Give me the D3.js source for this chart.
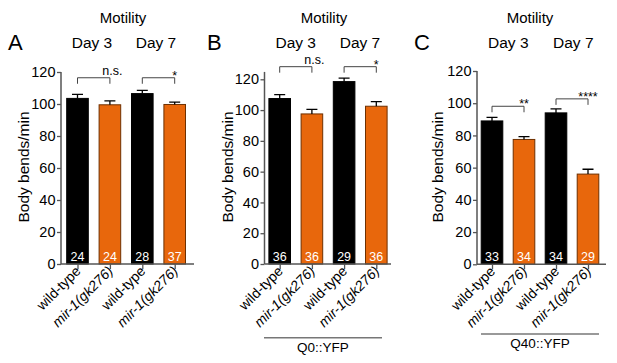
<!DOCTYPE html>
<html><head><meta charset="utf-8">
<script src="https://cdn.jsdelivr.net/npm/d3@7"></script>
<style>
body{margin:0;background:#fff;}
svg{font-family:"Liberation Sans",Arial,Helvetica,sans-serif;}
</style></head>
<body><svg id="c" width="617" height="363"></svg>
<script>
const categories = ["wild-type", "mir-1(gk276)", "wild-type", "mir-1(gk276)"];
const days = ["Day 3", "Day 7"];
const yTicks = [0, 20, 40, 60, 80, 100, 120];

const meansA = [103.5, 99.5, 106.5, 99.7];
const errsA  = [2.5, 2.5, 2.0, 1.5];
const countsA = [24, 24, 28, 37];
const sigA = ["n.s.", "*"];

const meansB = [107.5, 97.5, 118.5, 102.5];
const errsB  = [2.5, 3.0, 2.2, 3.0];
const countsB = [36, 36, 29, 36];
const sigB = ["n.s.", "*"];

const meansC = [89.0, 77.5, 94.0, 56.0];
const errsC  = [2.2, 1.8, 2.5, 3.0];
const countsC = [33, 34, 34, 29];
const sigC = ["**", "****"];

const panels = [
  {letter:"A", means:meansA, errs:errsA, counts:countsA, sig:sigA, strain:null,
   axisX:61, c0:77.5, step:32.4, xEnd:194, y0:264, y120:72, yTop:120, brk:[116.4,116.4], letterX:8,
   ylabX:29, daysX:[92,156], titleX:123},
  {letter:"B", means:meansB, errs:errsB, counts:countsB, sig:sigB, strain:"Q0::YFP",
   axisX:264.5, c0:279.7, step:32.2, xEnd:391, y0:264, y120:79.3, yTop:124.8, brk:[128.2,128.2], letterX:207,
   ylabX:233, daysX:[295.7,360], titleX:324, lineX:[264,382], lineY:337.7, strainY:352},
  {letter:"C", means:meansC, errs:errsC, counts:countsC, sig:sigC, strain:"Q40::YFP",
   axisX:477, c0:492, step:32, xEnd:606, y0:264.3, y120:71, yTop:120, brk:[98.1,102.7], letterX:414,
   ylabX:443, daysX:[508.3,573.3], titleX:530, lineX:[481,599], lineY:334, strainY:347.5}
];

const svg = d3.select("#c");
const orange = "#e8670c", orangeStroke = "#6e3000";
const axisCol = "#555";
const barW = 21.6;

panels.forEach(p => {
  const g = svg.append("g");
  const y = d3.scaleLinear().domain([0,120]).range([p.y0, p.y120]);
  const x = d3.scaleLinear().domain([0,3]).range([p.c0, p.c0 + 3*p.step]);

  // titles
  g.append("text").attr("x", p.titleX).attr("y", 23).attr("text-anchor","middle")
    .style("font-size","15px").text("Motility");
  days.forEach((d,i) => g.append("text").attr("x", p.daysX[i]).attr("y", 47.5)
    .attr("text-anchor","middle").style("font-size","15.5px").text(d));
  g.append("text").attr("x", p.letterX).attr("y", 50).style("font-size","22px").text(p.letter);

  // bars
  const idx = d3.range(4);
  g.selectAll("rect.bar").data(idx).join("rect")
    .attr("x", i => x(i) - barW/2).attr("width", barW)
    .attr("y", i => y(p.means[i])).attr("height", i => y(0) - y(p.means[i]))
    .attr("fill", i => i % 2 ? orange : "#000")
    .attr("stroke", i => i % 2 ? orangeStroke : "#000").attr("stroke-width", 1);

  // error bars (upper)
  g.selectAll("path.err").data(idx).join("path")
    .attr("d", i => {
      const yt = y(p.means[i] + p.errs[i]), yb = y(p.means[i]);
      return `M${x(i)},${yb}V${yt}M${x(i)-5.5},${yt}H${x(i)+5.5}`;
    })
    .attr("stroke","#000").attr("stroke-width",1.3).attr("fill","none");

  // counts
  g.selectAll("text.cnt").data(idx).join("text")
    .attr("x", i => x(i)).attr("y", y(0) - 3.5).attr("text-anchor","middle")
    .attr("fill","#fff").style("font-size","12.5px").text(i => p.counts[i]);

  // y axis
  const ya = d3.axisLeft(y).tickValues(yTicks).tickSize(4).tickPadding(1.5).tickSizeOuter(0);
  const yg = g.append("g").attr("transform", `translate(${p.axisX},0)`).call(ya);
  yg.select(".domain").remove();
  yg.append("line").attr("y1", y(0)).attr("y2", y(p.yTop)).attr("stroke", axisCol).attr("stroke-width",1.5);
  yg.selectAll(".tick line").attr("stroke", axisCol).attr("stroke-width",1.3);
  yg.selectAll(".tick text").attr("fill","#000").style("font-size","14.5px")
    .style("font-family","'Liberation Sans',Arial,sans-serif");

  g.append("text").attr("transform", `translate(${p.ylabX},167) rotate(-90)`)
    .attr("text-anchor","middle").style("font-size","15.5px").text("Body bends/min");

  // x axis
  const xa = d3.axisBottom(x).tickValues(idx).tickSize(5).tickFormat("").tickSizeOuter(0);
  const xg = g.append("g").attr("transform", `translate(0,${y(0)})`).call(xa);
  xg.select(".domain").remove();
  xg.append("line").attr("x1", p.axisX).attr("x2", p.xEnd).attr("stroke", axisCol).attr("stroke-width",1.5);
  xg.selectAll(".tick line").attr("stroke", axisCol).attr("stroke-width",1.3);

  // rotated category labels
  g.selectAll("text.cat").data(idx).join("text")
    .attr("transform", i => `translate(${x(i)+4},${y(0)+8}) rotate(-45)`)
    .attr("text-anchor","end").style("font-size","14px")
    .style("font-style", i => i % 2 ? "italic" : "normal")
    .text(i => categories[i]);

  // significance brackets
  [0,1].forEach(k => {
    const xl = x(2*k), xr = x(2*k+1), yb = y(p.brk[k]);
    g.append("path").attr("d", `M${xl},${yb+6}V${yb}H${xr}V${yb+6}`)
      .attr("fill","none").attr("stroke","#444").attr("stroke-width",1);
    const s = p.sig[k];
    if (s === "n.s.") {
      g.append("text").attr("x", xr + 2.5).attr("y", yb - 3).attr("text-anchor","middle")
        .style("font-size","12.5px").text(s);
    } else {
      g.append("text").attr("x", xr).attr("y", yb + 2).attr("text-anchor","middle")
        .style("font-size","12.5px").text(s);
    }
  });

  // strain annotation
  if (p.strain) {
    g.append("line").attr("x1", p.lineX[0]).attr("x2", p.lineX[1])
      .attr("y1", p.lineY).attr("y2", p.lineY).attr("stroke","#777").attr("stroke-width",1.5);
    g.append("text").attr("x", (p.lineX[0]+p.lineX[1])/2).attr("y", p.strainY)
      .attr("text-anchor","middle").style("font-size","13.5px").text(p.strain);
  }
});
</script></body></html>
